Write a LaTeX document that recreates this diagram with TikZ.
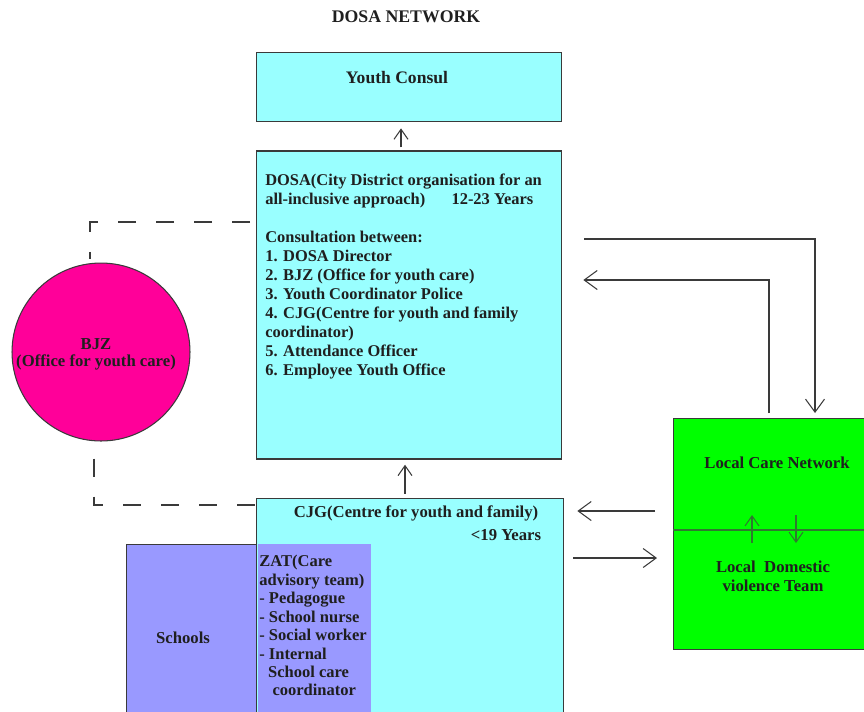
\documentclass[tikz,border=0pt]{standalone}
\usepackage{fontspec}
\setmainfont{Liberation Serif}
\usetikzlibrary{arrows.meta,positioning}

\definecolor{dosacyan}{HTML}{99FFFF}
\definecolor{schoolblue}{HTML}{9999FF}
\definecolor{bjzpink}{HTML}{FF0099}
\definecolor{caregreen}{HTML}{00FF00}
\definecolor{linegrey}{HTML}{3A3A3A}
\definecolor{inkgreen}{HTML}{2F7A2F}

\begin{document}
\begin{tikzpicture}[x=0.02cm, y=-0.02cm,
	every node/.style={font=\bfseries\fontsize{9.5}{10.8}\selectfont, text=black!88},
	box/.style={draw=linegrey, line width=0.8pt, inner sep=0pt},
	cyanbox/.style={box, fill=dosacyan},
	bodytext/.style={anchor=north west, align=left, inner sep=0pt},
	bigarr/.style={draw=linegrey, line width=0.6pt, -{Straight Barb[length=0.26cm,width=0.38cm]}},
	smallarr/.style={draw=linegrey, line width=0.6pt, -{Straight Barb[length=0.2cm,width=0.28cm]}},
	dashlink/.style={draw=linegrey, line width=0.6pt, dash pattern=on 0.36cm off 0.4cm}]
	\useasboundingbox (0,0) rectangle (864,711);
	\clip (0,0) rectangle (864,711);
	
	\node[font=\bfseries\fontsize{10.1}{12}\selectfont] (title) at (406,17) {DOSA NETWORK};
	
	% boxes
	\node[cyanbox, anchor=north west, minimum width=6.1cm, minimum height=1.38cm] (consul) at (256,52) {};
	\node[cyanbox, below=0.56cm of consul, minimum width=6.1cm, minimum height=6.16cm] (dosa) {};
	\node[cyanbox, below right=0.76cm and 0cm of dosa.south west, minimum width=6.14cm, minimum height=4.8cm] (cjg) {};
	\node[box, fill=schoolblue, anchor=north west, minimum width=2.6cm, minimum height=3.9cm] (schools) at (126,544) {};
	\node[fill=schoolblue, inner sep=0pt, below right=0pt and 0pt of schools.north east, minimum width=2.26cm, minimum height=3.9cm] (zat) {};
	\node[box, fill=caregreen, anchor=north west, minimum width=4.4cm, minimum height=4.62cm] (care) at (673,418) {};
	\draw[inkgreen, line width=0.8pt] (care.west |- 0,530) -- (care.east |- 0,530);
	\node[draw=linegrey, line width=0.6pt, fill=bjzpink, circle, minimum size=3.56cm, inner sep=0pt] (bjz) at (101,352) {};
	
	% texts
	\node[align=center] (bjztxt) at (96,354) {BJZ\\[-1pt](Office for youth care)};
	\node[font=\bfseries\fontsize{10}{12}\selectfont] (consultxt) at (397,78) {Youth Consul};
	\node[bodytext, font=\bfseries\fontsize{9.35}{10.8}\selectfont] (dosatxt) at (265,174) {DOSA(City District organisation for an\\
		all-inclusive approach)\hspace{15pt}12-23 Years\\[10.8pt]
		Consultation between:\\
		1. DOSA Director\\
		2. BJZ (Office for youth care)\\
		3. Youth Coordinator Police\\
		4. CJG(Centre for youth and family\\
		coordinator)\\
		5. Attendance Officer\\
		6. Employee Youth Office};
	\node (cjgtxt) at (416,513) {CJG(Centre for youth and family)};
	\node (agetxt) at (506,535) {<19 Years};
	\node (schooltxt) at (183,638) {Schools};
	\node[bodytext, font=\bfseries\fontsize{9.4}{10.5}\selectfont] (zattxt) at (259,555) {ZAT(Care\\
		advisory team)\\
		- Pedagogue\\
		- School nurse\\
		- Social worker\\
		- Internal\\
		\hspace{5pt}School care\\
		\hspace{7.5pt}coordinator};
	\node (lcntxt) at (777,463) {Local Care Network};
	\node[align=center] (ldvtxt) at (773,576) {Local\ \ Domestic\\violence Team};
	
	% connectors
	\draw[smallarr, shorten <=0.06cm, shorten >=0.12cm] (dosa.north -| 401,0) -- (consul.south -| 401,0);
	\draw[smallarr, shorten <=0.08cm, shorten >=0.1cm] (cjg.north -| 405,0) -- (dosa.south -| 405,0);
	\draw[bigarr, shorten <=0.44cm, shorten >=0.1cm] (dosa.east |- 0,239) -| (care.north -| 815,0);
	\draw[bigarr, shorten <=0.1cm, shorten >=0.42cm] (care.north -| 769,0) |- (dosa.east |- 0,280);
	\draw[bigarr, shorten <=0.36cm, shorten >=0.26cm] (care.west |- 0,511) -- (cjg.east |- 0,511);
	\draw[bigarr, shorten <=0.18cm, shorten >=0.32cm] (cjg.east |- 0,558) -- (care.west |- 0,558);
	\coordinate (upfoot) at (752,543);
	\coordinate (uptip) at (752,515);
	\coordinate (downfoot) at (796,515);
	\coordinate (downtip) at (796,543);
	\draw[smallarr, draw=inkgreen] (upfoot) -- (uptip);
	\draw[smallarr, draw=inkgreen] (downfoot) -- (downtip);
	
	% dashed links to BJZ
	\draw[dashlink, shorten <=0.12cm, shorten >=0.08cm] (dosa.west |- 0,222) -| (bjz.north -| 90,0);
	\draw[dashlink, shorten <=0.34cm] (bjz.south -| 94,0) |- (cjg.west |- 0,505);
\end{tikzpicture}
\end{document}
